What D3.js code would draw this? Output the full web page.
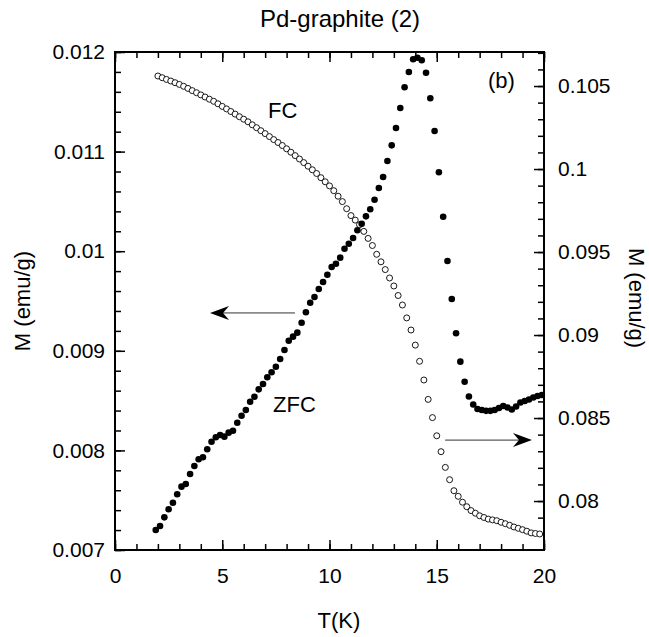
<!DOCTYPE html>
<html>
<head>
<meta charset="utf-8">
<script src="https://cdn.jsdelivr.net/npm/d3@7"></script>
<style>
  html, body { margin: 0; padding: 0; background: #fff; }
  svg { display: block; font-family: 'Liberation Sans', Arial, Helvetica, sans-serif; }
</style>
</head>
<body>
<svg id="chart" width="649" height="637"></svg>
<script>
// ZFC (filled dots, left axis)
const zfcT = [
  1.9, 2.1, 2.3, 2.5, 2.7, 2.9, 3.1, 3.3, 3.5, 3.7,
  3.9, 4.1, 4.3, 4.5, 4.7, 4.9, 5.1, 5.3, 5.5, 5.7,
  5.9, 6.1, 6.3, 6.5, 6.7, 6.9, 7.1, 7.3, 7.5, 7.7,
  7.9, 8.1, 8.3, 8.5, 8.7, 8.9, 9.1, 9.3, 9.5, 9.7,
  9.9, 10.1, 10.3, 10.5, 10.7, 10.9, 11.1, 11.3, 11.5, 11.7,
  11.9, 12.1, 12.3, 12.5, 12.7, 12.9, 13.1, 13.3, 13.5, 13.7,
  13.9, 14.1, 14.3, 14.5, 14.7, 14.9, 15.1, 15.3, 15.5, 15.7,
  15.9, 16.1, 16.3, 16.5, 16.7, 16.9, 17.1, 17.3, 17.5, 17.7,
  17.9, 18.1, 18.3, 18.5, 18.7, 18.9, 19.1, 19.3, 19.5, 19.7, 19.9
];
const zfcM = [
  0.007201, 0.007241, 0.007328, 0.007409, 0.007475, 0.007559, 0.007636, 0.007663, 0.007763, 0.007843,
  0.007911, 0.007931, 0.008011, 0.008087, 0.008132, 0.008155, 0.008138, 0.008178, 0.008198, 0.008278,
  0.008348, 0.008406, 0.008489, 0.008539, 0.008613, 0.008667, 0.008734, 0.008784, 0.008840, 0.008918,
  0.009008, 0.009101, 0.009142, 0.009182, 0.009282, 0.009387, 0.009483, 0.009540, 0.009620, 0.009691,
  0.009764, 0.009841, 0.009874, 0.009935, 0.010025, 0.010075, 0.010133, 0.010210, 0.010276, 0.010350,
  0.010421, 0.010517, 0.010635, 0.010745, 0.010906, 0.011063, 0.011237, 0.011438, 0.011646, 0.011799,
  0.011927, 0.011943, 0.011917, 0.011792, 0.011535, 0.011207, 0.010792, 0.010346, 0.009902, 0.009520,
  0.009176, 0.008891, 0.008690, 0.008541, 0.008461, 0.008416, 0.008406, 0.008397, 0.008397, 0.008406,
  0.008426, 0.008446, 0.008431, 0.008411, 0.008441, 0.008481, 0.008496, 0.008511, 0.008531, 0.008546, 0.008556
];

// FC (open circles, right axis)
const fcT = [
  2.0, 2.2, 2.4, 2.6, 2.8, 3.0, 3.2, 3.4, 3.6, 3.8,
  4.0, 4.2, 4.4, 4.6, 4.8, 5.0, 5.2, 5.4, 5.6, 5.8,
  6.0, 6.2, 6.4, 6.6, 6.8, 7.0, 7.2, 7.4, 7.6, 7.8,
  8.0, 8.2, 8.4, 8.6, 8.8, 9.0, 9.2, 9.4, 9.6, 9.8,
  10.0, 10.2, 10.4, 10.6, 10.8, 11.0, 11.2, 11.4, 11.6, 11.8,
  12.0, 12.2, 12.4, 12.6, 12.8, 13.0, 13.2, 13.4, 13.6, 13.8,
  14.0, 14.2, 14.4, 14.6, 14.8, 15.0, 15.2, 15.4, 15.6, 15.8,
  16.0, 16.2, 16.4, 16.6, 16.8, 17.0, 17.2, 17.4, 17.6, 17.8,
  18.0, 18.2, 18.4, 18.6, 18.8, 19.0, 19.2, 19.4, 19.6, 19.8
];
const fcM = [
  0.105604, 0.105502, 0.105399, 0.105303, 0.105201, 0.105098, 0.104984, 0.104857, 0.104725, 0.104598,
  0.104466, 0.104339, 0.104207, 0.104080, 0.103930, 0.103773, 0.103622, 0.103466, 0.103309, 0.103152,
  0.103002, 0.102845, 0.102664, 0.102490, 0.102309, 0.102134, 0.101954, 0.101773, 0.101598, 0.101417,
  0.101219, 0.101014, 0.100809, 0.100604, 0.100387, 0.100170, 0.099954, 0.099731, 0.099478, 0.099231,
  0.098984, 0.098695, 0.098363, 0.098038, 0.097610, 0.097195, 0.096923, 0.096646, 0.096243, 0.095821,
  0.095393, 0.094863, 0.094411, 0.093942, 0.093436, 0.092954, 0.092381, 0.091809, 0.091032, 0.090303,
  0.089393, 0.088417, 0.087291, 0.086122, 0.085026, 0.083930, 0.082972, 0.082026, 0.081285, 0.080622,
  0.080285, 0.079930, 0.079658, 0.079423, 0.079267, 0.079110, 0.079008, 0.078911, 0.078863, 0.078815,
  0.078719, 0.078634, 0.078538, 0.078436, 0.078357, 0.078273, 0.078183, 0.078080, 0.078044, 0.078014
];

const xTicks = [0, 5, 10, 15, 20];
const leftTicks = [0.007, 0.008, 0.009, 0.01, 0.011, 0.012];
const leftLabels = ['0.007', '0.008', '0.009', '0.01', '0.011', '0.012'];
const rightTicks = [0.08, 0.085, 0.09, 0.095, 0.1, 0.105];
const rightLabels = ['0.08', '0.085', '0.09', '0.095', '0.1', '0.105'];

const svg = d3.select('#chart');
const margin = { top: 52, right: 105, bottom: 87, left: 115 };
const width = 649, height = 637;
const x0 = margin.left, x1 = width - margin.right;
const y0 = margin.top, y1 = height - margin.bottom;

const x = d3.scaleLinear().domain([0, 20]).range([x0, x1]);
const yL = d3.scaleLinear().domain([0.007, 0.012]).range([y1, y0]);
const yR = d3.scaleLinear().domain([0.07705, 0.10705]).range([y1, y0]);

const tickStyle = g => {
  g.select('.domain').remove();
  g.selectAll('.tick line').attr('stroke', '#000').attr('stroke-width', 1.5);
  g.selectAll('.tick text').attr('fill', '#000').style('font-size', '21px');
};

// minor ticks
svg.append('g').attr('transform', `translate(0,${y1})`)
  .call(d3.axisBottom(x).ticks(20).tickSize(-6).tickFormat('')).call(tickStyle);
svg.append('g').attr('transform', `translate(0,${y0})`)
  .call(d3.axisTop(x).ticks(20).tickSize(-6).tickFormat('')).call(tickStyle);
svg.append('g').attr('transform', `translate(${x0},0)`)
  .call(d3.axisLeft(yL).ticks(25).tickSize(-6).tickFormat('')).call(tickStyle);
svg.append('g').attr('transform', `translate(${x1},0)`)
  .call(d3.axisRight(yR).ticks(30).tickSize(-6).tickFormat('')).call(tickStyle);

// major ticks + labels
svg.append('g').attr('transform', `translate(0,${y1})`)
  .call(d3.axisBottom(x).tickValues(xTicks).tickSize(-10).tickPadding(18).tickFormat(d3.format('d')))
  .call(tickStyle);
svg.append('g').attr('transform', `translate(0,${y0})`)
  .call(d3.axisTop(x).tickValues(xTicks).tickSize(-10).tickFormat(''))
  .call(tickStyle);
svg.append('g').attr('transform', `translate(${x0},0)`)
  .call(d3.axisLeft(yL).tickValues(leftTicks).tickSize(-10).tickPadding(10)
    .tickFormat((d, i) => leftLabels[i]))
  .call(tickStyle);
svg.append('g').attr('transform', `translate(${x1},0)`)
  .call(d3.axisRight(yR).tickValues(rightTicks).tickSize(-10).tickPadding(14)
    .tickFormat((d, i) => rightLabels[i]))
  .call(tickStyle);

// frame
svg.append('rect')
  .attr('x', x0).attr('y', y0)
  .attr('width', x1 - x0).attr('height', y1 - y0)
  .attr('fill', 'none').attr('stroke', '#000').attr('stroke-width', 2);

// FC open circles
svg.append('g').selectAll('circle')
  .data(d3.zip(fcT, fcM))
  .enter().append('circle')
  .attr('cx', d => x(d[0]))
  .attr('cy', d => yR(d[1]))
  .attr('r', 3)
  .attr('fill', '#fff')
  .attr('stroke', '#000')
  .attr('stroke-width', 0.9);

// ZFC filled dots
svg.append('g').selectAll('circle')
  .data(d3.zip(zfcT, zfcM))
  .enter().append('circle')
  .attr('cx', d => x(d[0]))
  .attr('cy', d => yL(d[1]))
  .attr('r', 3.3)
  .attr('fill', '#000');

// arrows
const arrow = (xFrom, xTo, yVal, scale) => {
  const yy = scale(yVal);
  const xa = x(xFrom), xb = x(xTo);
  const dir = xb > xa ? 1 : -1;
  svg.append('line')
    .attr('x1', xa).attr('x2', xb - dir * 10)
    .attr('y1', yy).attr('y2', yy)
    .attr('stroke', '#333').attr('stroke-width', 1);
  svg.append('path')
    .attr('d', `M${xb},${yy} L${xb - dir * 19},${yy - 7} L${xb - dir * 13},${yy} L${xb - dir * 19},${yy + 7} Z`)
    .attr('fill', '#000');
};
arrow(8.39, 4.43, 0.00938, yL);
arrow(15.39, 19.44, 0.08367, yR);

// text
svg.append('text')
  .attr('x', 340).attr('y', 27)
  .attr('text-anchor', 'middle')
  .style('font-size', '24px')
  .text('Pd-graphite (2)');

svg.append('text')
  .attr('x', 339).attr('y', 628)
  .attr('text-anchor', 'middle')
  .style('font-size', '22px')
  .text('T(K)');

svg.append('text')
  .attr('transform', `translate(30,${(y0 + y1) / 2}) rotate(-90)`)
  .attr('text-anchor', 'middle')
  .style('font-size', '22px')
  .text('M (emu/g)');

svg.append('text')
  .attr('transform', `translate(629,${(y0 + y1) / 2 - 3}) rotate(90)`)
  .attr('text-anchor', 'middle')
  .style('font-size', '22px')
  .text('M (emu/g)');

svg.append('text').attr('x', 268).attr('y', 118).style('font-size', '22px').text('FC');
svg.append('text').attr('x', 273).attr('y', 412).style('font-size', '22px').text('ZFC');
svg.append('text').attr('x', 488).attr('y', 88).style('font-size', '22px').text('(b)');
</script>
</body>
</html>
